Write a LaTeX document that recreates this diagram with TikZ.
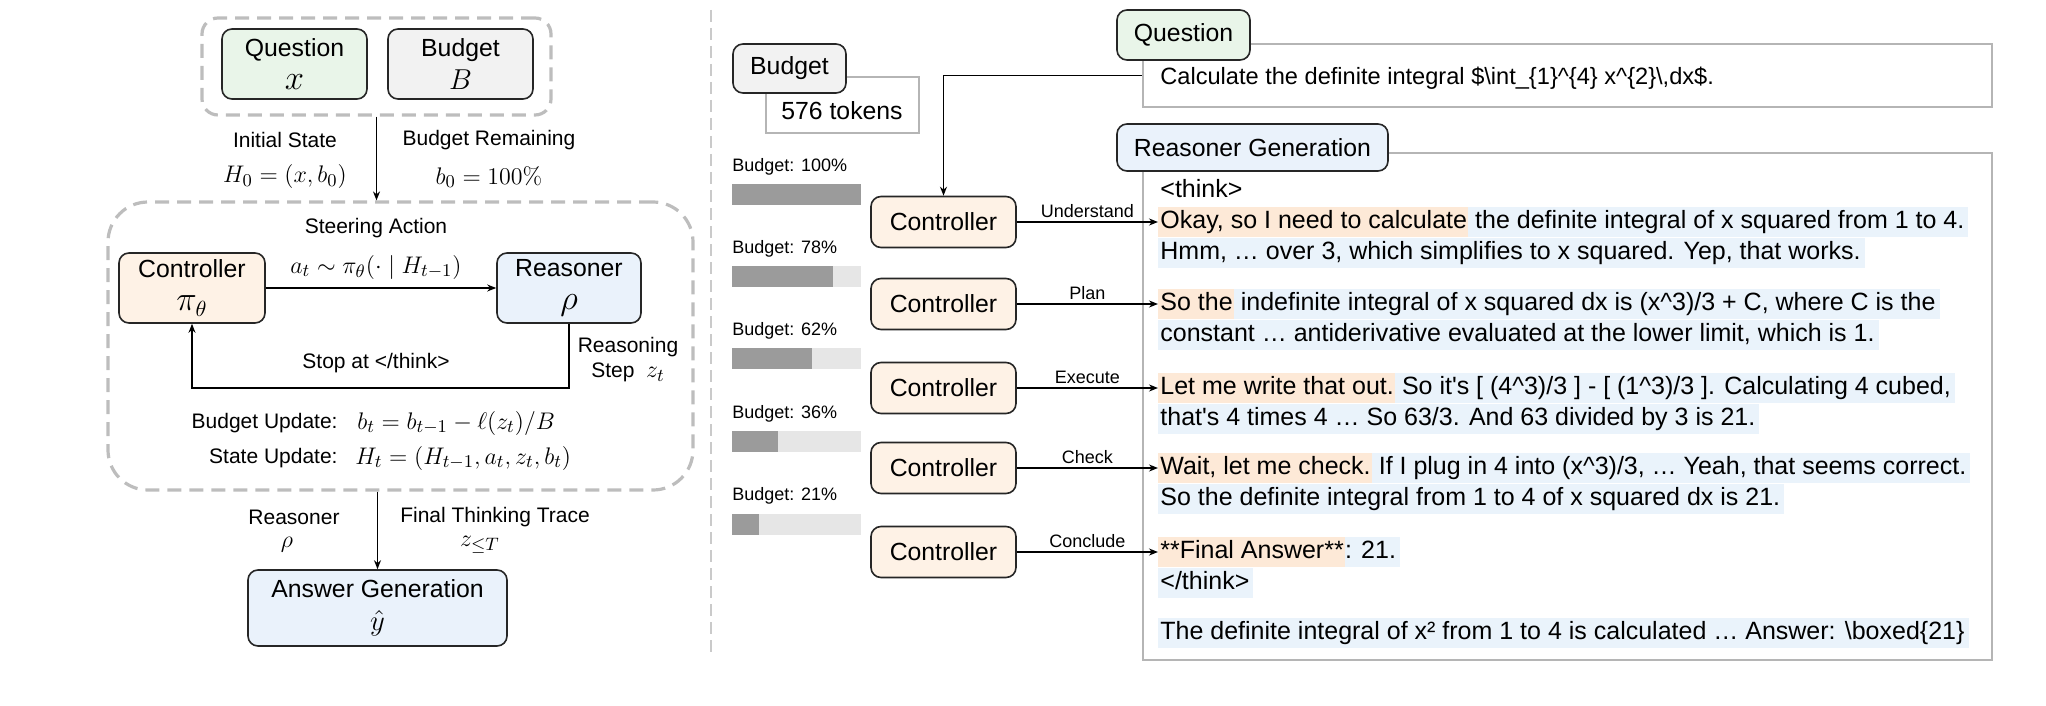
\documentclass[tikz,border=0pt]{standalone}
\usepackage[no-math]{fontspec}
\setmainfont{Liberation Sans}
\usepackage{amsmath,amssymb}
\usepackage{xcolor}
\usepackage{tikz}
\usetikzlibrary{arrows.meta, positioning, calc}

\definecolor{qgreen}{HTML}{E9F5E9}
\definecolor{bgray}{HTML}{F2F2F2}
\definecolor{ctlorange}{HTML}{FEF2E6}
\definecolor{rsnblue}{HTML}{EAF2FB}
\definecolor{hlorange}{HTML}{FDE9D7}
\definecolor{hlblue}{HTML}{EAF3FB}
\definecolor{dashgray}{HTML}{BDBDBD}
\definecolor{panelgray}{HTML}{B5B5B5}
\definecolor{barfill}{HTML}{9B9B9B}
\definecolor{barrest}{HTML}{E6E6E6}

\newcommand{\hlstrut}{\rule[-4.2pt]{0pt}{15pt}}
\newcommand{\hlo}[1]{{\setlength{\fboxsep}{0pt}\colorbox{hlorange}{\hlstrut\kern1pt\relax#1\kern0.6pt\relax}}}
\newcommand{\hlb}[2][1pt]{{\setlength{\fboxsep}{0pt}\colorbox{hlblue}{\hlstrut\kern#1\relax#2\kern2pt\relax}}}

\begin{document}
\begin{tikzpicture}[x=0.5pt, y=-0.5pt,
    lbl/.style={font=\fontsize{10.5}{12.5}\selectfont, inner sep=0pt, align=center},
    mth/.style={font=\fontsize{12.5}{14}\selectfont, inner sep=0pt},
    blk/.style={draw=black!85, line width=0.8pt, rounded corners=5pt, align=center,
                font=\fontsize{12.4}{14.5}\selectfont, inner sep=0pt},
    dashbox/.style={draw=dashgray, line width=1.6pt, dash pattern=on 7pt off 4pt, inner sep=0pt},
    conn/.style={-{Stealth[length=4.5pt, width=3.5pt]}, line width=0.7pt},
    panel/.style={draw=panelgray, line width=1.2pt, fill=white, inner sep=0pt},
    ctl/.style={blk, fill=ctlorange, minimum width=72.5pt, minimum height=25.5pt},
    txt/.style={anchor=west, inner sep=0pt, font=\fontsize{12.5}{15}\selectfont},
    act/.style={font=\fontsize{9}{10}\selectfont, midway, above=2pt, inner sep=0pt},
    bud/.style={anchor=west, inner sep=0pt, font=\fontsize{9}{10}\selectfont}]
  \useasboundingbox (0,0) rectangle (2046,706);

  % ---- left: control loop ----
  \node[dashbox, rounded corners=8pt, minimum width=174.5pt, minimum height=48.5pt] (inbox) at (376.5,66.5) {};
  \node[blk, fill=qgreen, minimum width=72.5pt, minimum height=35pt] (qin) at (294.5,64)
    {Question\\[2pt]{\fontsize{16}{16}\selectfont$x$}};
  \node[blk, fill=bgray, minimum width=72.5pt, minimum height=35pt] (bin) at (460.5,64)
    {Budget\\[2pt]{\fontsize{15}{16}\selectfont$B$}};

  \node[lbl] (init) at (285,140) {Initial State};
  \node[mth] (initm) at (285,177) {$H_0 = (x, b_0)$};
  \node[lbl] (brem) at (489,140) {Budget Remaining};
  \node[mth] (bremm) at (489,177) {$b_0 = 100\%$};

  \node[dashbox, rounded corners=20pt, minimum width=292.5pt, minimum height=144pt] (loop) at (400.5,346) {};
  \draw[conn] (inbox.south) -- (inbox.south |- loop.north);

  \node[blk, fill=ctlorange, minimum width=73pt, minimum height=35pt] (ctl) at (192,288)
    {Controller\\[2pt]{\fontsize{16}{16}\selectfont$\pi_\theta$}};
  \node[blk, fill=rsnblue, minimum width=72pt, minimum height=35pt] (rsn) at (569,288)
    {Reasoner\\[2pt]{\fontsize{16}{16}\selectfont$\rho$}};
  \node[lbl] (steer) at (376,228) {Steering Action};
  \node[mth] (steerm) at (376,267) {$a_t \sim \pi_\theta(\cdot \mid H_{t-1})$};
  \draw[conn] (ctl) -- (rsn);
  \draw[conn] (rsn.south) -- ++(0,64) -| (ctl.south);
  \node[lbl] (stop) at (376,363) {Stop at </think>};
  \node[lbl] (rstep) at (628,360) {Reasoning\\Step\ \ {\fontsize{12.5}{12.5}\selectfont$z_t$}};

  \node[lbl, anchor=east] (bupd) at (338,423) {Budget Update:};
  \node[mth, anchor=west] (bupdm) at (357,423) {$b_t = b_{t-1} - \ell(z_t)/B$};
  \node[lbl, anchor=east] (supd) at (338,458) {State Update:};
  \node[mth, anchor=west] (supdm) at (355,458) {$H_t = (H_{t-1}, a_t, z_t, b_t)$};

  \node[blk, fill=rsnblue, minimum width=129.5pt, minimum height=38pt] (ans) at (377.5,608)
    {Answer Generation\\[2pt]{\fontsize{15}{16}\selectfont$\hat{y}$}};
  \draw[conn] (loop.south -| ans.north) -- (ans.north);
  \node[lbl] (rlab) at (294,517) {Reasoner};
  \node[mth] (rlabm) at (287,545) {$\rho$};
  \node[lbl] (ftt) at (495,517) {Final Thinking Trace};
  \node[mth] (fttm) at (480,545) {$z_{\leq T}$};

  \draw[draw=dashgray!80, line width=1pt, dash pattern=on 6pt off 3pt] (711,10) -- (711,652);

  % ---- right: example trace ----
  \draw[panel] (766,77) rectangle (919,133);
  \node[blk, fill=bgray, minimum width=56.5pt, minimum height=24.5pt] (bud) at (789.5,68.5) {Budget};
  \node[inner sep=0pt, font=\fontsize{12.4}{14}\selectfont] (tok) at (842,111) {576 tokens};

  \node[panel, minimum width=424.5pt, minimum height=31.5pt] (qpanel) at (1567.5,75.5) {};
  \node[blk, fill=qgreen, minimum width=66.5pt, minimum height=25pt] (qlab) at (1183.5,35) {Question};
  \node[txt, font=\fontsize{11.8}{15}\selectfont] (qtxt) at (1160,78)
    {Calculate the definite integral \$\textbackslash int\_\{1\}\textasciicircum\{4\} x\textasciicircum\{2\}\textbackslash,dx\$.};

  \node[panel, minimum width=424.5pt, minimum height=253.5pt] (rpanel) at (1567.5,406.5) {};
  \node[blk, fill=rsnblue, minimum width=135.5pt, minimum height=23.5pt] (rlabr) at (1252.5,147.5) {Reasoner Generation};

  % budget bars
  \node[bud] (b1) at (732,167) {Budget: 100\%};
  \fill[barrest] (732,184) rectangle (861,205);
  \fill[barfill] (732,184) rectangle (861,205);
  \node[bud] (b2) at (732,249) {Budget: 78\%};
  \fill[barrest] (732,266) rectangle (861,287);
  \fill[barfill] (732,266) rectangle (832.6,287);
  \node[bud] (b3) at (732,331) {Budget: 62\%};
  \fill[barrest] (732,348) rectangle (861,369);
  \fill[barfill] (732,348) rectangle (812,369);
  \node[bud] (b4) at (732,414) {Budget: 36\%};
  \fill[barrest] (732,431) rectangle (861,452);
  \fill[barfill] (732,431) rectangle (778.4,452);
  \node[bud] (b5) at (732,496) {Budget: 21\%};
  \fill[barrest] (732,514) rectangle (861,535);
  \fill[barfill] (732,514) rectangle (759,535);

  % controllers
  \node[ctl] (c1) at (943.5,222) {Controller};
  \node[ctl] (c2) at (943.5,304) {Controller};
  \node[ctl] (c3) at (943.5,388) {Controller};
  \node[ctl] (c4) at (943.5,468) {Controller};
  \node[ctl] (c5) at (943.5,552) {Controller};
  \draw[conn] (qpanel.west) -| (c1.north);

  % trace text
  \node[txt] (think) at (1160,189) {<think>};
  \node[txt] (t1) at (1158,222) {\hlo{Okay, so I need to calculate}\hlb[0pt]{ the definite integral of x squared from 1 to 4.}};
  \node[txt, anchor=north west] (t1b) at (t1.south west) {\hlb{Hmm, … over 3, which simplifies to x squared. Yep, that works.}};
  \node[txt] (t2) at (1158,304) {\hlo{So the}\hlb[0pt]{ indefinite integral of x squared dx is (x\textasciicircum3)/3 + C, where C is the}};
  \node[txt, anchor=north west] (t2b) at (t2.south west) {\hlb{constant … antiderivative evaluated at the lower limit, which is 1.}};
  \node[txt] (t3) at (1158,388) {\hlo{Let me write that out.}\hlb[0pt]{ So it\textquotesingle s [ (4\textasciicircum3)/3 ] - [ (1\textasciicircum3)/3 ]. Calculating 4 cubed,}};
  \node[txt, anchor=north west] (t3b) at (t3.south west) {\hlb{that\textquotesingle s 4 times 4 … So 63/3. And 63 divided by 3 is 21.}};
  \node[txt] (t4) at (1158,468) {\hlo{Wait, let me check.}\hlb[0pt]{ If I plug in 4 into (x\textasciicircum3)/3, … Yeah, that seems correct.}};
  \node[txt, anchor=north west] (t4b) at (t4.south west) {\hlb{So the definite integral from 1 to 4 of x squared dx is 21.}};
  \node[txt] (t5) at (1158,552) {\hlo{**Final Answer**}\hlb[0pt]{: 21.}};
  \node[txt, anchor=north west] (t5b) at (t5.south west) {\hlb{</think>}};
  \node[txt] (final) at (1158,633) {\hlb{The definite integral of x² from 1 to 4 is calculated … Answer: \textbackslash boxed\{21\}}};

  \draw[conn] (c1) -- (t1.west) node[act] {Understand};
  \draw[conn] (c2) -- (t2.west) node[act] {Plan};
  \draw[conn] (c3) -- (t3.west) node[act] {Execute};
  \draw[conn] (c4) -- (t4.west) node[act] {Check};
  \draw[conn] (c5) -- (t5.west) node[act] {Conclude};
\end{tikzpicture}
\end{document}
